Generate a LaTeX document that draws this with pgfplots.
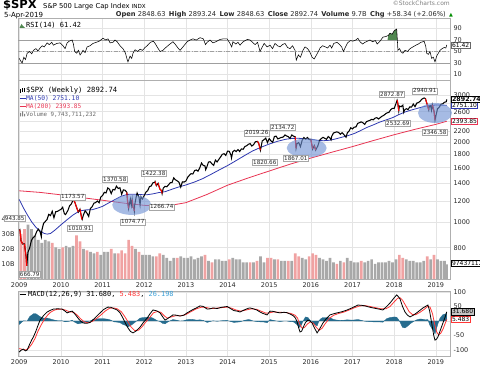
\documentclass[border=0pt]{standalone}
\usepackage{pgfplots}
\pgfplotsset{compat=1.18}
\usepackage{fontspec}
\setmainfont{DejaVu Sans}
\newfontfamily\mono{DejaVu Sans Mono}
\definecolor{gridc}{RGB}{228,228,228}
\definecolor{framec}{RGB}{175,175,175}
\definecolor{ma50}{RGB}{45,55,175}
\definecolor{ma200}{RGB}{232,52,82}
\definecolor{volg}{RGB}{168,168,168}
\definecolor{volr}{RGB}{240,162,162}
\definecolor{ell}{RGB}{112,146,212}
\definecolor{hist}{RGB}{38,108,142}
\definecolor{sig}{RGB}{255,55,55}
\definecolor{rsig}{RGB}{80,135,80}
\definecolor{lblue}{RGB}{60,160,215}
\definecolor{txt}{RGB}{40,40,40}
\pgfplotsset{
  panel/.style={
    scale only axis, width=432pt,
    xmin=2008.97, xmax=2019.34,
    axis line style={framec, line width=0.5pt},
    major tick length=0pt, minor tick length=0pt,
    xtick={2009,2010,2011,2012,2013,2014,2015,2016,2017,2018,2019},
    xmajorgrids, ymajorgrids,
    grid style={gridc, line width=0.5pt},
    yticklabel pos=right,
    ticklabel style={font=\fontsize{6.5}{7}\selectfont, text=txt},
    /pgf/number format/assume math mode=true,
    /pgf/number format/1000 sep={},
  },
}
\tikzset{
  annot/.style={draw=gray!70, fill=white, inner sep=0.9pt, font=\fontsize{5.6}{6}\selectfont, text=txt},
  rbox/.style={anchor=west, fill=white, inner sep=0.8pt, line width=0.6pt, font=\fontsize{6}{6.5}\selectfont},
}
\begin{document}
\begin{tikzpicture}
\useasboundingbox (0,0) rectangle (480pt,367pt);

% ---------------- RSI panel ----------------
\begin{axis}[panel, at={(18pt,349pt)}, anchor=north west, height=62pt,
  ymin=0.4, ymax=108.3, ytick={10,30,50,70,90}, xticklabels={}, clip=false]
\draw[gray!75, line width=0.6pt] (axis cs:2008.97,70) -- (axis cs:2019.34,70);
\draw[gray!75, line width=0.6pt] (axis cs:2008.97,30) -- (axis cs:2019.34,30);
\draw[gray!75, line width=0.6pt, dash pattern=on 4pt off 1.5pt on 1pt off 1.5pt] (axis cs:2008.97,50) -- (axis cs:2019.34,50);
\addplot[fill=rsig, draw=none] coordinates {(2017.84,70)(2017.86,78)(2017.90,82)(2017.95,80)(2018.00,86)(2018.06,89)(2018.068,70)} -- cycle;
\addplot[black, line width=0.55pt] coordinates {
(2009.00,38)(2009.04,33)(2009.07,30)(2009.11,40)(2009.15,36)(2009.19,47)(2009.25,50)(2009.30,46)(2009.34,52)(2009.40,55)(2009.45,51)(2009.50,56)(2009.55,60)(2009.60,58)(2009.67,65)(2009.72,62)(2009.78,66)(2009.82,61)(2009.90,64)(2009.98,65)
(2010.05,60)(2010.10,55)(2010.15,65)(2010.20,68)(2010.27,70)(2010.30,63)(2010.33,50)(2010.38,47)(2010.42,52)(2010.46,44)(2010.50,48)(2010.53,52)(2010.58,48)(2010.63,58)(2010.70,60)(2010.77,64)(2010.85,66)(2010.92,68)
(2011.01,73)(2011.08,70)(2011.13,72)(2011.18,65)(2011.25,66)(2011.30,70)(2011.35,67)(2011.42,60)(2011.49,55)(2011.55,47)(2011.59,36)(2011.61,32)(2011.66,42)(2011.70,38)(2011.73,47)(2011.78,53)(2011.84,50)(2011.90,54)(2011.96,52)
(2012.02,57)(2012.07,60)(2012.15,66)(2012.22,68)(2012.27,63)(2012.31,58)(2012.38,50)(2012.45,52)(2012.52,57)(2012.60,62)(2012.69,67)(2012.75,62)(2012.80,57)(2012.86,52)(2012.93,58)
(2013.03,67)(2013.10,70)(2013.17,72)(2013.25,70)(2013.34,74)(2013.42,72)(2013.47,62)(2013.51,66)(2013.58,70)(2013.65,65)(2013.72,67)(2013.82,71)(2013.90,72)(2013.99,72)
(2014.06,64)(2014.10,58)(2014.13,67)(2014.20,63)(2014.25,66)(2014.30,61)(2014.36,66)(2014.42,69)(2014.48,71)(2014.54,70)(2014.60,66)(2014.66,62)(2014.72,66)(2014.78,50)(2014.82,56)(2014.88,64)(2014.95,58)
(2015.02,61)(2015.08,55)(2015.14,64)(2015.20,60)(2015.26,58)(2015.32,62)(2015.38,64)(2015.44,57)(2015.50,55)(2015.56,60)(2015.62,52)(2015.65,35)(2015.70,44)(2015.75,40)(2015.81,52)(2015.86,58)(2015.92,55)(2015.97,50)
(2016.03,40)(2016.08,37)(2016.12,42)(2016.18,50)(2016.22,56)(2016.28,60)(2016.35,58)(2016.40,56)(2016.46,61)(2016.50,56)(2016.55,64)(2016.63,66)(2016.69,62)(2016.74,58)(2016.78,50)(2016.82,56)(2016.88,65)(2016.95,69)
(2017.01,68)(2017.08,70)(2017.13,73)(2017.18,67)(2017.24,63)(2017.30,66)(2017.36,68)(2017.42,70)(2017.48,67)(2017.55,69)(2017.59,63)(2017.65,67)(2017.73,75)(2017.80,76)(2017.86,78)(2017.90,82)(2017.95,80)
(2018.00,86)(2018.06,89)(2018.075,72)(2018.09,52)(2018.13,55)(2018.17,49)(2018.21,47)(2018.26,52)(2018.32,50)(2018.38,55)(2018.45,58)(2018.52,61)(2018.58,63)(2018.64,66)(2018.69,67)(2018.72,68)(2018.76,58)(2018.78,47)(2018.82,45)(2018.86,50)(2018.90,38)(2018.94,40)(2018.98,32)
(2019.02,42)(2019.06,47)(2019.10,52)(2019.15,55)(2019.20,57)(2019.24,56)(2019.262,61.42)};
\node[rbox, draw=gray!80!black, xshift=1pt] at (axis cs:2019.34,61.42) {61.42};
\end{axis}

% ---------------- Price grid / labels ----------------
\begin{axis}[panel, at={(18pt,287pt)}, anchor=north west, height=199pt,
  ymode=log, ymin=610, ymax=3423,
  ytick={800,1000,1200,1400,1600,1800,2000,2200,2400,2600,2800,3000},
  yticklabels={800,1000,1200,1400,1600,1800,2000,2200,,2600,,3000},
  minor ytick={}, xticklabels={2009,2010,2011,2012,2013,2014,2015,2016,2017,2018,2019}]
\end{axis}

% ---------------- Volume ----------------
\begin{axis}[scale only axis, width=432pt, height=199pt, at={(18pt,287pt)}, anchor=north west,
  xmin=2008.97, xmax=2019.34, ymin=0, ymax=132, hide x axis,
  axis y line*=left, y axis line style={draw=none}, major tick length=0pt,
  ytick={10,20,30,40}, yticklabels={10B,20B,30B,40B},
  ticklabel style={font=\fontsize{6.5}{7}\selectfont, text=txt},
  /pgf/number format/assume math mode=true]
\addplot[ybar, bar width=2.7pt, bar shift=0pt, fill=volg, draw=none] coordinates {
(2009.208,36)(2009.292,33)(2009.375,29)(2009.458,26)(2009.542,24)(2009.625,26)(2009.708,25)(2009.875,21)(2009.958,20)
(2010.125,22)(2010.208,21)(2010.292,22)(2010.542,20)(2010.708,18)(2010.792,17)(2010.958,16)
(2011.042,18)(2011.125,18)(2011.292,17)(2011.792,20)(2011.958,16)
(2012.042,16)(2012.125,16)(2012.208,15)(2012.458,16)(2012.542,14)(2012.625,12)(2012.708,14)(2012.875,15)(2012.958,14)
(2013.042,14)(2013.125,15)(2013.208,13)(2013.292,14)(2013.375,15)(2013.542,12)(2013.708,13)(2013.792,13)(2013.875,12)(2013.958,12)
(2014.125,14)(2014.208,13)(2014.292,13)(2014.375,11)(2014.458,11)(2014.625,11)(2014.792,15)(2014.875,11)
(2015.125,13)(2015.292,12)(2015.375,12)(2015.542,12)(2015.792,14)(2015.875,13)
(2016.208,14)(2016.292,13)(2016.375,12)(2016.458,14)(2016.542,11)(2016.708,12)(2016.875,14)(2016.958,12)
(2017.042,11)(2017.125,11)(2017.292,11)(2017.375,12)(2017.458,13)(2017.542,10)(2017.625,11)(2017.708,11)(2017.792,11)(2017.875,12)(2017.958,11)
(2018.042,13)(2018.292,13)(2018.375,12)(2018.458,12)(2018.542,11)(2018.625,11)(2018.708,12)(2018.875,13)
(2019.042,13)(2019.125,12)(2019.208,12)(2019.255,9.74)};
\addplot[ybar, bar width=2.7pt, bar shift=0pt, fill=volr, draw=none] coordinates {
(2009.042,30)(2009.125,33)(2009.792,24)
(2010.042,21)(2010.375,29)(2010.458,25)(2010.625,19)(2010.875,18)
(2011.208,20)(2011.375,17)(2011.458,19)(2011.542,17)(2011.625,26)(2011.708,22)(2011.875,18)
(2012.292,15)(2012.375,17)(2012.792,14)
(2013.458,16)(2013.625,11)
(2014.042,13)(2014.542,11)(2014.708,12)(2014.958,14)
(2015.042,14)(2015.208,13)(2015.458,12)(2015.625,17)(2015.708,15)(2015.958,15)
(2016.042,17)(2016.125,16)(2016.625,10)(2016.792,11)
(2017.208,12)
(2018.125,16)(2018.208,14)(2018.792,15)(2018.958,16)};
\end{axis}

% ---------------- Price plots ----------------
\begin{axis}[scale only axis, width=432pt, height=199pt, at={(18pt,287pt)}, anchor=north west,
  xmin=2008.97, xmax=2019.34, ymode=log, ymin=610, ymax=3423, hide axis, clip=false]
\addplot[ma200, line width=0.8pt] coordinates {
(2009.00,1310)(2009.50,1292)(2010.00,1265)(2010.50,1235)(2011.00,1207)(2011.50,1178)(2012.00,1155)(2012.30,1148)(2012.60,1152)(2013.00,1182)(2013.50,1268)(2014.00,1375)(2014.50,1465)(2015.00,1555)(2015.50,1650)(2016.00,1740)(2016.50,1830)(2017.00,1922)(2017.50,2025)(2018.00,2130)(2018.50,2232)(2019.00,2330)(2019.262,2394)};
\addplot[ma50, line width=0.8pt] coordinates {
(2009.00,1215)(2009.10,1130)(2009.20,1060)(2009.30,1000)(2009.40,955)(2009.50,925)(2009.60,905)(2009.67,900)(2009.75,905)(2009.85,930)(2010.00,975)(2010.15,1020)(2010.30,1065)(2010.45,1100)(2010.60,1110)(2010.75,1112)(2010.90,1130)(2011.00,1145)(2011.15,1180)(2011.30,1215)(2011.45,1250)(2011.60,1270)(2011.75,1272)(2011.90,1268)(2012.05,1265)(2012.20,1275)(2012.35,1290)(2012.50,1300)(2012.65,1325)(2012.80,1350)(2013.00,1378)(2013.20,1412)(2013.40,1455)(2013.60,1510)(2013.80,1570)(2014.00,1630)(2014.20,1700)(2014.40,1775)(2014.60,1850)(2014.80,1910)(2015.00,1965)(2015.20,2012)(2015.40,2048)(2015.55,2063)(2015.70,2065)(2015.85,2058)(2016.00,2048)(2016.15,2030)(2016.30,2022)(2016.45,2030)(2016.60,2055)(2016.75,2085)(2016.90,2115)(2017.05,2155)(2017.20,2210)(2017.35,2270)(2017.50,2320)(2017.65,2375)(2017.80,2420)(2017.95,2465)(2018.10,2530)(2018.25,2590)(2018.40,2635)(2018.55,2675)(2018.70,2715)(2018.85,2745)(2019.00,2755)(2019.15,2752)(2019.262,2751)};
\addplot[black, line width=1.05pt] coordinates {
(2009.000,931)(2009.015,935)(2009.042,850)(2009.083,826)(2009.125,827)(2009.167,735)(2009.180,683)(2009.208,768)(2009.250,798)(2009.292,852)(2009.333,873)(2009.375,883)(2009.417,919)(2009.458,940)(2009.500,919)(2009.530,880)(2009.542,930)(2009.583,987)(2009.625,1004)(2009.667,1021)(2009.708,1068)(2009.750,1057)(2009.792,1097)(2009.833,1036)(2009.875,1093)(2009.917,1096)(2009.958,1106)(2010.000,1115)
(2010.042,1136)(2010.083,1074)(2010.110,1066)(2010.125,1075)(2010.167,1104)(2010.208,1150)(2010.250,1169)(2010.300,1217)(2010.333,1187)(2010.375,1136)(2010.417,1089)(2010.458,1117)(2010.500,1031)(2010.510,1022)(2010.542,1065)(2010.583,1102)(2010.625,1080)(2010.667,1049)(2010.708,1125)(2010.750,1141)(2010.792,1176)(2010.833,1183)(2010.875,1199)(2010.917,1181)(2010.958,1241)(2011.000,1258)
(2011.042,1293)(2011.083,1286)(2011.125,1343)(2011.167,1327)(2011.208,1279)(2011.250,1326)(2011.292,1320)(2011.333,1364)(2011.375,1337)(2011.417,1345)(2011.458,1271)(2011.500,1321)(2011.542,1316)(2011.583,1292)(2011.600,1199)(2011.625,1124)(2011.667,1219)(2011.690,1154)(2011.710,1216)(2011.730,1136)(2011.750,1131)(2011.762,1099)(2011.770,1155)(2011.805,1238)(2011.830,1285)(2011.875,1237)(2011.900,1159)(2011.920,1244)(2011.958,1219)(2012.000,1258)
(2012.042,1295)(2012.083,1312)(2012.125,1358)(2012.167,1366)(2012.208,1404)(2012.250,1408)(2012.260,1419)(2012.292,1370)(2012.333,1398)(2012.375,1330)(2012.417,1310)(2012.430,1279)(2012.458,1343)(2012.500,1362)(2012.542,1357)(2012.583,1379)(2012.625,1405)(2012.667,1407)(2012.708,1465)(2012.750,1441)(2012.792,1428)(2012.833,1412)(2012.875,1353)(2012.917,1416)(2012.958,1413)(2013.000,1426)
(2013.042,1472)(2013.083,1498)(2013.125,1520)(2013.167,1515)(2013.208,1561)(2013.250,1569)(2013.292,1553)(2013.333,1598)(2013.375,1667)(2013.417,1631)(2013.458,1626)(2013.475,1573)(2013.500,1606)(2013.542,1680)(2013.583,1686)(2013.625,1655)(2013.667,1633)(2013.708,1710)(2013.750,1682)(2013.792,1721)(2013.833,1757)(2013.875,1798)(2013.917,1806)(2013.958,1781)(2014.000,1848)
(2014.042,1845)(2014.083,1783)(2014.095,1741)(2014.125,1838)(2014.167,1860)(2014.208,1841)(2014.250,1872)(2014.292,1842)(2014.333,1884)(2014.375,1878)(2014.417,1924)(2014.458,1936)(2014.500,1960)(2014.542,1973)(2014.583,1931)(2014.625,1955)(2014.667,2003)(2014.720,2011)(2014.750,1972)(2014.790,1862)(2014.833,2018)(2014.875,2040)(2014.917,2068)(2014.958,1990)(2015.000,2059)
(2015.042,2020)(2015.083,1995)(2015.125,2097)(2015.167,2104)(2015.208,2053)(2015.250,2068)(2015.292,2081)(2015.333,2086)(2015.380,2126)(2015.417,2107)(2015.458,2096)(2015.500,2063)(2015.542,2126)(2015.583,2104)(2015.625,2091)(2015.645,1893)(2015.667,1972)(2015.708,1990)(2015.750,1920)(2015.792,2033)(2015.833,2079)(2015.875,2050)(2015.917,2080)(2015.958,2043)(2016.000,2044)
(2016.042,1880)(2016.083,1940)(2016.115,1864)(2016.167,1932)(2016.208,2027)(2016.250,2060)(2016.292,2082)(2016.333,2065)(2016.375,2047)(2016.417,2097)(2016.458,2071)(2016.485,2037)(2016.500,2099)(2016.542,2162)(2016.583,2174)(2016.625,2184)(2016.667,2171)(2016.708,2139)(2016.750,2168)(2016.792,2133)(2016.845,2085)(2016.875,2164)(2016.917,2199)(2016.958,2263)(2017.000,2239)
(2017.042,2275)(2017.083,2279)(2017.125,2351)(2017.167,2364)(2017.208,2381)(2017.250,2363)(2017.292,2329)(2017.333,2384)(2017.375,2400)(2017.417,2412)(2017.458,2434)(2017.500,2423)(2017.542,2459)(2017.583,2470)(2017.625,2441)(2017.667,2472)(2017.708,2500)(2017.750,2519)(2017.792,2553)(2017.833,2575)(2017.875,2586)(2017.917,2648)(2017.958,2676)(2018.000,2674)
(2018.042,2786)(2018.070,2873)(2018.083,2824)(2018.110,2620)(2018.125,2732)(2018.167,2714)(2018.208,2752)(2018.230,2588)(2018.250,2641)(2018.292,2670)(2018.333,2648)(2018.375,2712)(2018.417,2705)(2018.458,2780)(2018.500,2718)(2018.542,2801)(2018.583,2816)(2018.625,2850)(2018.667,2902)(2018.720,2930)(2018.750,2914)(2018.792,2768)(2018.830,2641)(2018.840,2712)(2018.875,2736)(2018.895,2633)(2018.917,2760)(2018.958,2600)(2018.980,2417)(2019.000,2507)
(2019.042,2670)(2019.083,2704)(2019.125,2776)(2019.167,2784)(2019.208,2822)(2019.250,2834)(2019.262,2893)};
\addplot[red, line width=1.05pt, unbounded coords=jump] coordinates {
(2009.015,935)(2009.042,850)(2009.083,826)(2009.09,nan)
(2009.125,827)(2009.167,735)(2009.180,683)(2009.19,nan)
(2010.300,1217)(2010.333,1187)(2010.375,1136)(2010.417,1089)(2010.42,nan)
(2010.458,1117)(2010.500,1031)(2010.510,1022)(2010.52,nan)
(2011.583,1292)(2011.600,1199)(2011.625,1124)(2011.63,nan)
(2011.710,1216)(2011.730,1136)(2011.750,1131)(2011.762,1099)(2011.765,nan)
(2012.260,1419)(2012.292,1370)(2012.30,nan)
(2012.333,1398)(2012.375,1330)(2012.417,1310)(2012.430,1279)(2012.44,nan)
(2014.720,2011)(2014.750,1972)(2014.790,1862)(2014.80,nan)
(2015.625,2091)(2015.645,1893)(2015.65,nan)
(2016.000,2044)(2016.042,1880)(2016.05,nan)
(2016.083,1940)(2016.115,1864)(2016.12,nan)
(2018.070,2873)(2018.083,2824)(2018.110,2620)(2018.115,nan)
(2018.750,2914)(2018.792,2768)(2018.830,2641)(2018.835,nan)
(2018.917,2760)(2018.958,2600)(2018.980,2417)};
\fill[ell, fill opacity=0.62] (axis cs:2011.70,1159) ellipse [x radius=19.5pt, y radius=10pt];
\fill[ell, fill opacity=0.62] (axis cs:2015.90,1899) ellipse [x radius=20pt, y radius=9.5pt];
\fill[ell, fill opacity=0.62] (axis cs:2018.98,2572) ellipse [x radius=17pt, y radius=10pt];
\node[annot] at (axis cs:2008.892,1035) {943.85};
\node[annot] at (axis cs:2009.252,637) {666.79};
\node[annot] at (axis cs:2010.285,1242) {1173.57};
\node[annot] at (axis cs:2010.453,949) {1010.91};
\node[annot] at (axis cs:2011.293,1451) {1370.58};
\node[annot] at (axis cs:2012.229,1529) {1422.38};
\node[annot] at (axis cs:2012.421,1139) {1266.74};
\node[annot] at (axis cs:2011.725,1000) {1074.77};
\node[annot] at (axis cs:2014.702,2163) {2019.26};
\node[annot] at (axis cs:2014.894,1682) {1820.66};
\node[annot] at (axis cs:2015.326,2278) {2134.72};
\node[annot] at (axis cs:2015.639,1741) {1867.01};
\node[annot] at (axis cs:2017.943,3030) {2872.87};
\node[annot] at (axis cs:2018.735,3113) {2940.91};
\node[annot] at (axis cs:2018.087,2358) {2532.69};
\node[annot] at (axis cs:2018.976,2181) {2346.58};
\node[rbox, draw=ma200, xshift=1pt] at (axis cs:2019.34,2393.85) {2393.85};
\node[rbox, draw=ma50, xshift=1pt] at (axis cs:2019.34,2751.10) {2751.10};
\node[rbox, draw=black, xshift=1pt, font=\fontsize{6.3}{6.5}\selectfont\bfseries] at (axis cs:2019.34,2892.74) {2892.74};
\end{axis}

\node[rbox, draw=black] at (451pt,103.6pt) {9743711232};

% ---------------- MACD panel ----------------
\begin{axis}[panel, at={(18pt,76pt)}, anchor=north west, height=65pt,
  ymin=-120.7, ymax=103.4, ytick={-100,-50,0,50,100}, yticklabels={-100,-50,,50,100}, clip=false,
  xticklabels={2009,2010,2011,2012,2013,2014,2015,2016,2017,2018,2019}]
\addplot[fill=hist, draw=hist, line width=0.3pt] coordinates {
(2009.00,0)(2009.00,-12)(2009.10,1)(2009.19,0)(2009.25,15)(2009.34,25)(2009.40,25)(2009.45,20)(2009.50,15)(2009.58,10)(2009.67,10)(2009.75,7)(2009.82,4)(2009.92,1)(2010.03,1)(2010.10,-3)(2010.20,-1)(2010.27,3)(2010.33,-4)(2010.41,-10)(2010.47,-8)(2010.53,-6)(2010.62,-3)(2010.70,0)(2010.80,7)(2010.94,8)
(2011.03,8)(2011.13,6)(2011.20,3)(2011.28,-3)(2011.35,-4)(2011.42,-6)(2011.49,-12)(2011.55,-15)(2011.61,-20)(2011.67,-16)(2011.73,-10)(2011.80,-2)(2011.90,10)(2011.98,12)(2012.07,13)(2012.14,13)(2012.21,10)(2012.30,2)(2012.38,-2)(2012.44,-8)(2012.50,-10)(2012.58,-2)(2012.69,5)(2012.77,3)(2012.86,0)(2012.95,1)
(2013.03,5)(2013.15,6)(2013.25,3)(2013.34,4)(2013.42,2)(2013.51,-5)(2013.58,-2)(2013.65,1)(2013.75,-1)(2013.85,1)(2013.99,2)(2014.08,-2)(2014.15,-5)(2014.23,-4)(2014.30,-3)(2014.40,2)(2014.50,5)(2014.54,4)(2014.62,0)(2014.70,-2)(2014.78,-3)(2014.85,-3)(2014.95,-6)
(2015.02,5)(2015.10,2)(2015.18,0)(2015.26,-2)(2015.35,0)(2015.42,0)(2015.50,-2)(2015.58,-3)(2015.63,-8)(2015.67,-13)(2015.71,-20)(2015.74,-22)(2015.78,-12)(2015.81,-1)(2015.87,14)(2015.93,12)(2015.98,3)(2016.03,-2)(2016.09,-12)(2016.15,-17)(2016.20,2)(2016.24,8)(2016.29,12)(2016.37,12)(2016.46,11)(2016.55,5)(2016.63,3)(2016.75,2)(2016.87,4)
(2017.00,3)(2017.13,5)(2017.22,2)(2017.30,-1)(2017.40,-2)(2017.49,-3)(2017.60,-3)(2017.73,-4)(2017.82,8)(2017.90,12)(2018.00,14)(2018.06,13)(2018.10,6)(2018.14,-4)(2018.20,-22)(2018.26,-24)(2018.32,-18)(2018.38,-10)(2018.46,-2)(2018.54,4)(2018.62,7)(2018.69,6)(2018.75,4)(2018.81,5)(2018.85,-13)(2018.90,-25)(2018.95,-35)(2018.98,-45)
(2019.02,-24)(2019.05,-10)(2019.10,10)(2019.17,22)(2019.22,24)(2019.262,26.2)(2019.262,0)} -- cycle;
\addplot[sig, line width=0.8pt] coordinates {
(2009.00,-95)(2009.08,-98)(2009.15,-100)(2009.22,-95)(2009.30,-80)(2009.38,-60)(2009.45,-35)(2009.52,-15)(2009.60,5)(2009.68,20)(2009.75,30)(2009.85,38)(2009.95,41)(2010.05,40)(2010.12,37)(2010.20,32)(2010.30,30)(2010.38,22)(2010.47,8)(2010.55,-2)(2010.63,-6)(2010.75,-2)(2010.85,8)(2010.97,22)
(2011.07,35)(2011.17,44)(2011.27,45)(2011.35,42)(2011.45,32)(2011.52,18)(2011.60,0)(2011.68,-20)(2011.77,-33)(2011.86,-32)(2011.95,-20)(2012.03,-5)(2012.12,10)(2012.22,28)(2012.32,33)(2012.40,30)(2012.48,18)(2012.55,10)(2012.65,14)(2012.75,18)(2012.88,18)
(2013.00,22)(2013.12,32)(2013.25,42)(2013.38,48)(2013.50,46)(2013.60,43)(2013.72,44)(2013.85,46)(2014.00,48)(2014.10,44)(2014.20,38)(2014.32,34)(2014.45,38)(2014.58,42)(2014.70,40)(2014.82,33)(2014.92,27)
(2015.00,28)(2015.10,31)(2015.25,30)(2015.40,29)(2015.52,26)(2015.62,20)(2015.68,10)(2015.73,-10)(2015.79,-25)(2015.85,-22)(2015.92,-10)(2015.99,-3)(2016.06,-8)(2016.13,-22)(2016.20,-32)(2016.27,-25)(2016.35,-8)(2016.45,10)(2016.55,20)(2016.67,26)(2016.80,31)(2016.92,38)
(2017.05,46)(2017.18,52)(2017.30,53)(2017.42,50)(2017.55,46)(2017.68,42)(2017.80,42)(2017.90,50)(2018.00,66)(2018.08,78)(2018.14,80)(2018.20,72)(2018.28,52)(2018.36,32)(2018.44,22)(2018.52,22)(2018.62,30)(2018.72,40)(2018.80,50)(2018.86,48)(2018.92,25)(2018.97,-10)
(2019.02,-38)(2019.07,-48)(2019.12,-42)(2019.18,-25)(2019.22,-10)(2019.262,5.48)};
\addplot[black, line width=0.8pt] coordinates {
(2009.00,-107)(2009.05,-100)(2009.10,-97)(2009.15,-103)(2009.19,-100)(2009.25,-80)(2009.30,-65)(2009.34,-55)(2009.40,-35)(2009.45,-15)(2009.50,3)(2009.58,18)(2009.67,31)(2009.75,37)(2009.82,41)(2009.92,42)(2010.03,41)(2010.10,34)(2010.15,28)(2010.22,32)(2010.27,34)(2010.33,25)(2010.41,10)(2010.47,0)(2010.53,-7)(2010.62,-8)(2010.70,-5)(2010.80,8)(2010.94,28)
(2011.03,40)(2011.13,48)(2011.20,47)(2011.28,42)(2011.35,38)(2011.42,28)(2011.49,10)(2011.55,-8)(2011.61,-24)(2011.67,-36)(2011.73,-41)(2011.80,-35)(2011.90,-21)(2011.98,-5)(2012.07,10)(2012.14,25)(2012.21,38)(2012.30,35)(2012.38,28)(2012.44,15)(2012.50,3)(2012.58,10)(2012.69,21)(2012.77,20)(2012.86,17)(2012.95,20)
(2013.03,28)(2013.15,38)(2013.25,45)(2013.34,52)(2013.42,50)(2013.51,41)(2013.58,42)(2013.65,45)(2013.75,43)(2013.85,47)(2013.99,50)(2014.08,42)(2014.15,36)(2014.23,34)(2014.30,31)(2014.40,38)(2014.50,44)(2014.54,45)(2014.62,42)(2014.70,38)(2014.78,31)(2014.85,26)(2014.95,21)
(2015.02,34)(2015.10,33)(2015.18,30)(2015.26,28)(2015.35,30)(2015.42,29)(2015.50,24)(2015.58,18)(2015.63,10)(2015.67,-3)(2015.71,-25)(2015.74,-38)(2015.78,-35)(2015.81,-24)(2015.87,-5)(2015.93,3)(2015.98,0)(2016.03,-7)(2016.09,-25)(2016.15,-41)(2016.20,-30)(2016.24,-20)(2016.29,-7)(2016.37,8)(2016.46,21)(2016.55,25)(2016.63,28)(2016.75,32)(2016.87,38)
(2017.00,46)(2017.13,55)(2017.22,54)(2017.30,52)(2017.40,48)(2017.49,45)(2017.60,42)(2017.73,38)(2017.82,50)(2017.90,62)(2018.00,80)(2018.06,90)(2018.10,84)(2018.14,76)(2018.20,50)(2018.26,31)(2018.32,20)(2018.38,14)(2018.46,20)(2018.54,28)(2018.62,37)(2018.69,45)(2018.75,50)(2018.81,55)(2018.85,35)(2018.90,-7)(2018.95,-50)(2018.98,-66)
(2019.02,-62)(2019.05,-55)(2019.10,-35)(2019.17,-7)(2019.22,12)(2019.262,31.68)};
\node[rbox, draw=sig, xshift=1pt] at (axis cs:2019.34,5.48) {5.483};
\node[rbox, draw=black, fill=gray!45, xshift=1pt] at (axis cs:2019.34,31.68) {31.680};
\end{axis}

% ---------------- header & legends ----------------
\node[anchor=base west, inner sep=0] at (3pt,358.5pt) {\fontsize{11.5}{11.5}\selectfont\bfseries \$SPX};
\node[anchor=base west, inner sep=0] at (43pt,358pt) {\fontsize{6.8}{7}\selectfont S\&P 500 Large Cap Index\ \fontsize{5.6}{6}\selectfont INDX};
\node[anchor=base east, inner sep=0, text=gray] at (450pt,361pt) {\fontsize{6}{6}\selectfont \textcopyright StockCharts.com};
\node[anchor=base west, inner sep=0] at (4pt,349.8pt) {\fontsize{7}{7}\selectfont 5-Apr-2019};
\node[anchor=base east, inner sep=0, text=txt] at (446pt,350pt) {\fontsize{6.7}{7}\selectfont \textbf{Open} 2848.63\enspace \textbf{High} 2893.24\enspace \textbf{Low} 2848.63\enspace \textbf{Close} 2892.74\enspace \textbf{Volume} 9.7B\enspace \textbf{Chg} +58.34 (+2.06\%)};
\node[anchor=base west, inner sep=0, text=green!55!black] at (449pt,350.5pt) {\fontsize{5}{5}\selectfont ▲};

\fill[rsig] (19.5pt,339pt) -- (21.5pt,343pt) -- (23pt,341pt) -- (25pt,339pt) -- cycle;
\node[anchor=base west, inner sep=0] at (26pt,339.5pt) {\mono\fontsize{7}{7}\selectfont RSI(14) 61.42};

\draw[black, line width=0.5pt] (20pt,274pt) -- (20pt,278pt) (22pt,275pt) -- (22pt,279pt) (24pt,274.5pt) -- (24pt,278.5pt);
\node[anchor=base west, inner sep=0] at (26pt,274.5pt) {\mono\fontsize{7.2}{7.5}\selectfont \$SPX (Weekly) 2892.74};
\draw[ma50, line width=1pt] (19.5pt,268.8pt) -- (26pt,268.8pt);
\node[anchor=base west, inner sep=0, text=ma50] at (26pt,266.5pt) {\mono\fontsize{6.3}{6.5}\selectfont MA(50) 2751.10};
\draw[ma200, line width=1pt] (19.5pt,260.8pt) -- (26pt,260.8pt);
\node[anchor=base west, inner sep=0, text=ma200] at (26pt,258.5pt) {\mono\fontsize{6.1}{6.5}\selectfont MA(200) 2393.85};
\fill[gray] (20pt,250.5pt) rectangle (21pt,254pt) (22pt,250.5pt) rectangle (23pt,255.5pt) (24pt,250.5pt) rectangle (25pt,253pt);
\node[anchor=base west, inner sep=0, text=gray!80!black] at (26pt,250.5pt) {\mono\fontsize{5.8}{6.5}\selectfont Volume 9,743,711,232};

\draw[black, line width=1pt] (19.5pt,72.5pt) -- (26pt,72.5pt);
\node[anchor=base west, inner sep=0] at (28pt,70.3pt) {\mono\fontsize{6.9}{7}\selectfont MACD(12,26,9) 31.680, \textcolor{sig}{5.483}, \textcolor{lblue}{26.198}};
\end{tikzpicture}
\end{document}
